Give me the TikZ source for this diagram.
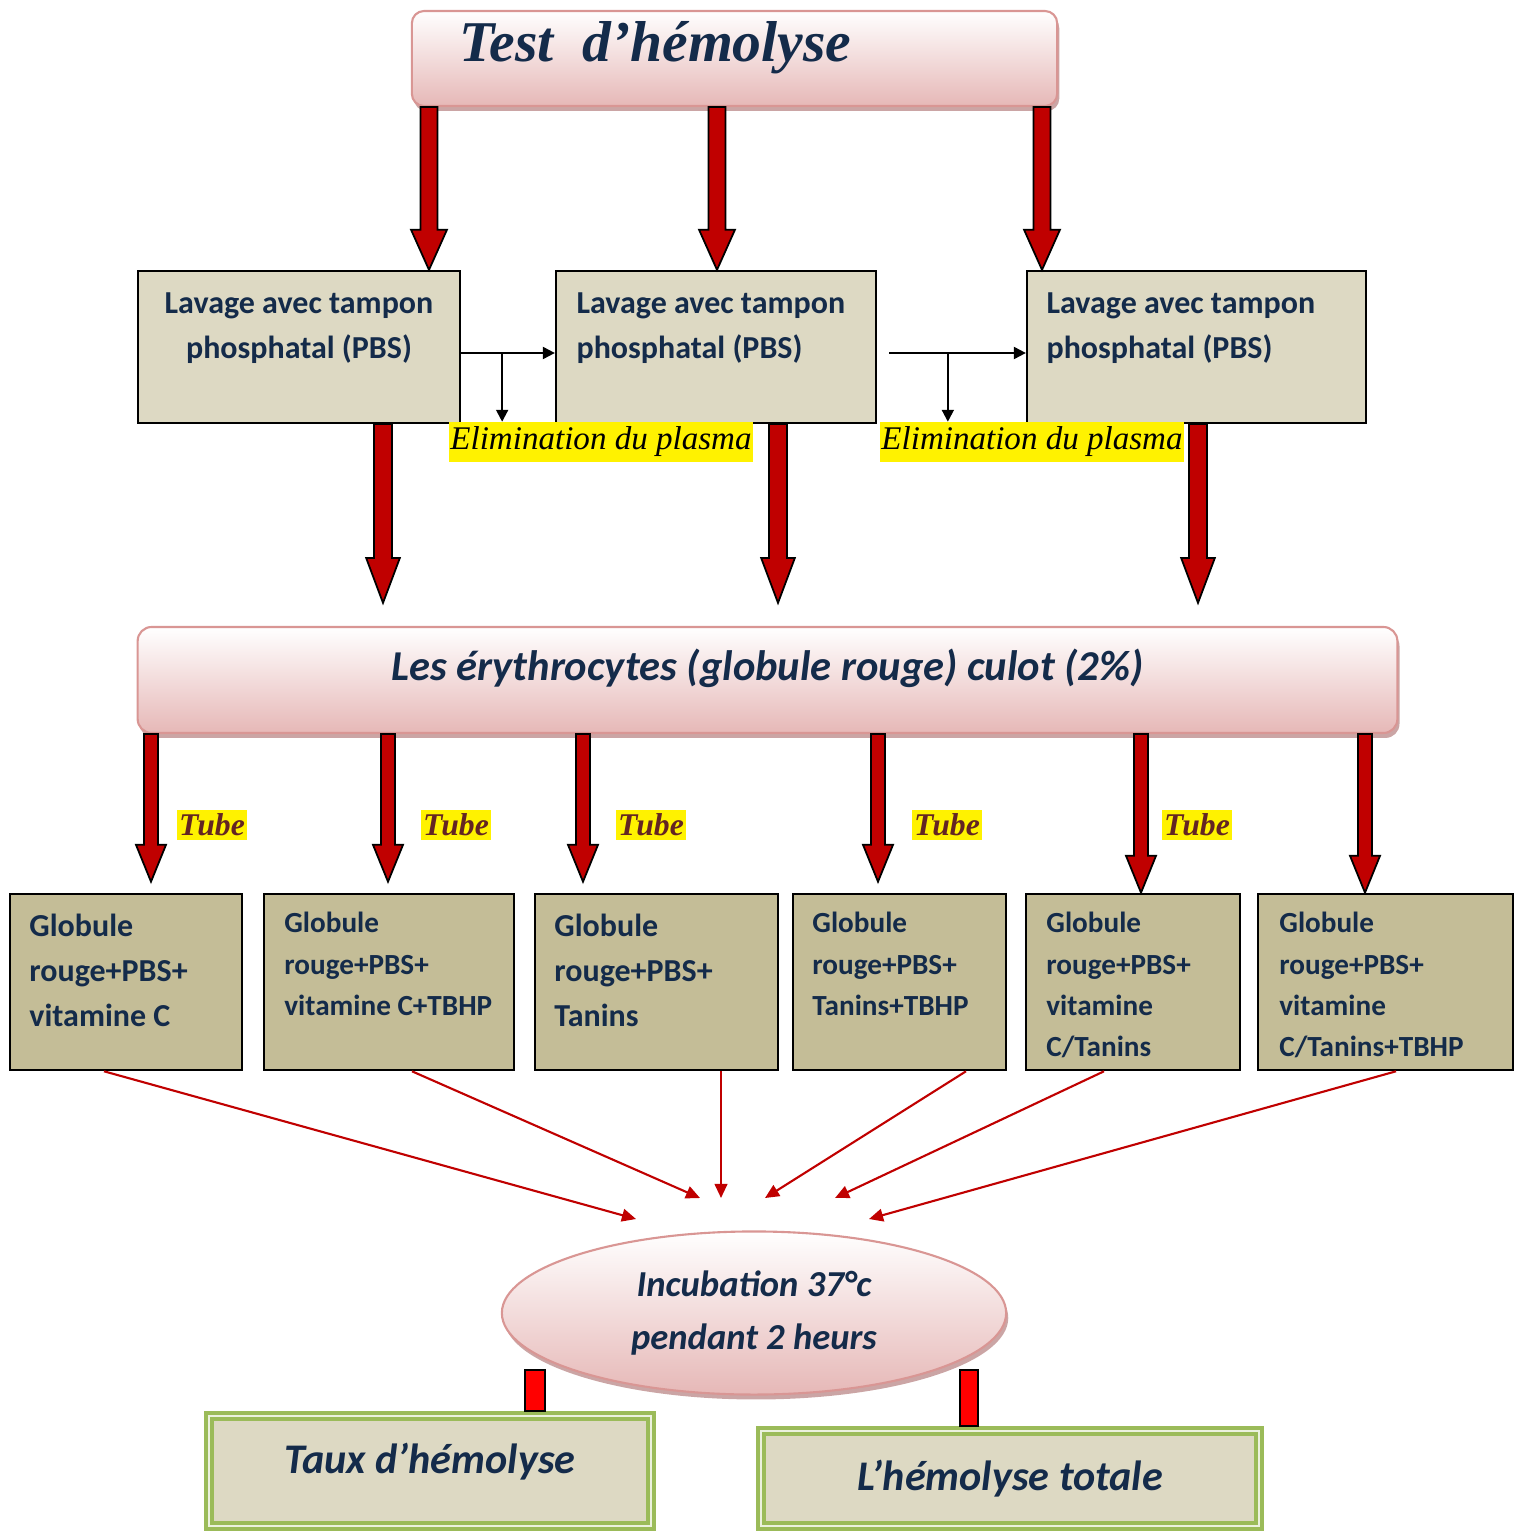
\documentclass[tikz,border=0pt]{standalone}
\usepackage{fontspec}
\setmainfont{Liberation Serif}
\newfontfamily\calib{Carlito}
\usetikzlibrary{arrows.meta,calc,shapes.geometric,shadows}

\definecolor{navy}{HTML}{142B4A}
\definecolor{darkred}{HTML}{C00000}
\definecolor{tubered}{HTML}{632523}
\definecolor{pinkedge}{HTML}{D99694}
\definecolor{pinklow}{HTML}{E6B8B7}
\definecolor{beige}{HTML}{DDD9C3}
\definecolor{khaki}{HTML}{C4BD97}
\definecolor{olive}{HTML}{9BBB59}
\definecolor{palegreen}{HTML}{EBF1DE}

% thick red arrow: from, to, half shaft, half head, head length
\newcommand\fatarrow[5]{%
  \draw[fatarr] let \p1=#1, \p2=#2 in
    (\x1-#3,\y1) -- (\x1-#3,\y2+#5) -- (\x1-#4,\y2+#5) -- (\x2,\y2)
    -- (\x1+#4,\y2+#5) -- (\x1+#3,\y2+#5) -- (\x1+#3,\y1) -- cycle;}

\begin{document}
\begin{tikzpicture}[x=0.01cm,y=-0.01cm,
  pinkbox/.style={draw=pinkedge,line width=0.6pt,top color=white,bottom color=pinklow,
    drop shadow={shadow xshift=0.6pt,shadow yshift=-1.4pt,fill=pinkedge!70!gray,opacity=0.8}},
  lavbox/.style={draw,line width=0.6pt,fill=beige,minimum height=1.52cm},
  globox/.style={draw,line width=0.7pt,fill=khaki,minimum height=1.76cm},
  resbox/.style={draw=olive,line width=1.1pt,double=palegreen,double distance=0.6pt,fill=beige,
    text=navy,font=\calib\bfseries\itshape\fontsize{12}{14}\selectfont},
  lavtxt/.style={inner sep=0pt,text=navy,font=\calib\bfseries\fontsize{9.1}{12.8}\selectfont},
  bigtxt/.style={inner sep=0pt,align=left,text=navy,font=\calib\bfseries\fontsize{9.1}{12.8}\selectfont},
  smalltxt/.style={inner sep=0pt,align=left,text=navy,font=\calib\bfseries\fontsize{8.3}{11.7}\selectfont},
  elim/.style={fill=yellow,inner xsep=0.3pt,inner ysep=1.3pt,font=\itshape\fontsize{9.4}{11}\selectfont},
  tube/.style={fill=yellow,inner xsep=0.6pt,inner ysep=1pt,text=tubered,font=\bfseries\itshape\fontsize{9}{11}\selectfont},
  fatarr/.style={draw=black,line width=0.5pt,fill=darkred},
  blk/.style={line width=0.6pt,-{Triangle[length=3.4pt,width=3.4pt]}},
  red/.style={darkred,line width=0.6pt,-{Triangle[length=4pt,width=3.6pt]}},
  stub/.style={draw=black,line width=0.5pt,fill=red}]
\useasboundingbox (0,0) rectangle (1514,1531);

% title
\node[pinkbox,rounded corners=3.5pt,minimum width=6.45cm,minimum height=0.95cm] (title) at (734.5,58.5) {};
\node[anchor=base west,inner sep=0pt,text=navy,font=\bfseries\itshape\fontsize{16.4}{19}\selectfont]
  (titlet) at ($(title.west)+(48,3.5)$) {Test\ \ d’hémolyse};

% washing steps
\node[lavbox,minimum width=3.22cm] (lav1) at (299,347) {};
\node[lavbox,minimum width=3.20cm] (lav2) at (716,347) {};
\node[lavbox,minimum width=3.39cm] (lav3) at (1196.5,347) {};
\node[lavtxt,align=center,anchor=north] (lav1t) at ($(lav1.north)+(0,22)$) {Lavage avec tampon\\phosphatal (PBS)};
\node[lavtxt,align=left,anchor=north west] (lav2t) at ($(lav2.north west)+(21,22)$) {Lavage avec tampon\\phosphatal (PBS)};
\node[lavtxt,align=left,anchor=north west] (lav3t) at ($(lav3.north west)+(20,22)$) {Lavage avec tampon\\phosphatal (PBS)};

\node[elim] (e1) at (601,442) {Elimination du plasma};
\node[elim] (e2) at (1032,442) {Elimination du plasma};

\draw[blk] (lav1.east |- 0,353) -- coordinate[pos=0.4375] (b1) (lav2.west |- 0,353);
\draw[blk] (b1) -- (b1 |- e1.north);
\coordinate (s2) at (889,353);
\draw[blk] (s2) -- coordinate[pos=0.43] (b2) (lav3.west |- s2);
\draw[blk] (b2) -- (b2 |- e2.north);

% red cells
\node[pinkbox,rounded corners=4pt,minimum width=12.59cm,minimum height=1.06cm] (ery) at (767.5,680) {};
\node[inner sep=0pt,text=navy,font=\calib\bfseries\itshape\fontsize{12.1}{14}\selectfont]
  (eryt) at ($(ery.center)+(0,-12)$) {Les érythrocytes (globule rouge) culot (2\%)};

\fatarrow{(429,0 |- title.south)}{(429,0 |- lav1.north)}{2.4pt}{5.1pt}{11.4pt}
\fatarrow{(717,0 |- title.south)}{(717,0 |- lav2.north)}{2.4pt}{5.1pt}{11.4pt}
\fatarrow{(1042,0 |- title.south)}{(1042,0 |- lav3.north)}{2.4pt}{5.1pt}{11.4pt}
\fatarrow{(383,0 |- lav1.south)}{($(383,0 |- ery.north)+(0,-23)$)}{2.56pt}{4.8pt}{12.8pt}
\fatarrow{(778,0 |- lav2.south)}{($(778,0 |- ery.north)+(0,-23)$)}{2.56pt}{4.8pt}{12.8pt}
\fatarrow{(1198,0 |- lav3.south)}{($(1198,0 |- ery.north)+(0,-23)$)}{2.56pt}{4.8pt}{12.8pt}

% tubes
\node[globox,minimum width=2.32cm] (g1) at (126,982) {};
\node[globox,minimum width=2.50cm] (g2) at (389,982) {};
\node[globox,minimum width=2.43cm] (g3) at (656.5,982) {};
\node[globox,minimum width=2.13cm] (g4) at (899.5,982) {};
\node[globox,minimum width=2.14cm] (g5) at (1133,982) {};
\node[globox,minimum width=2.55cm] (g6) at (1385.5,982) {};
\node[bigtxt,anchor=north west] (g1t) at ($(g1.north west)+(20,21)$) {Globule\\rouge+PBS+\\vitamine C};
\node[smalltxt,anchor=north west] (g2t) at ($(g2.north west)+(21,19)$) {Globule\\rouge+PBS+\\vitamine C+TBHP};
\node[bigtxt,anchor=north west] (g3t) at ($(g3.north west)+(20,21)$) {Globule\\rouge+PBS+\\Tanins};
\node[smalltxt,anchor=north west] (g4t) at ($(g4.north west)+(20,19)$) {Globule\\rouge+PBS+\\Tanins+TBHP};
\node[smalltxt,anchor=north west] (g5t) at ($(g5.north west)+(21,19)$) {Globule\\rouge+PBS+\\vitamine\\C/Tanins};
\node[smalltxt,anchor=north west] (g6t) at ($(g6.north west)+(22,19)$) {Globule\\rouge+PBS+\\vitamine\\C/Tanins+TBHP};

\node[tube] (t1) at (212,825) {Tube};
\node[tube] (t2) at (456,825) {Tube};
\node[tube] (t3) at (651,825) {Tube};
\node[tube] (t4) at (947,825) {Tube};
\node[tube] (t5) at (1197,825) {Tube};

\fatarrow{(151,0 |- ery.south)}{($(151,0 |- g1.north)+(0,-11)$)}{2pt}{4.27pt}{10.5pt}
\fatarrow{(388,0 |- ery.south)}{($(388,0 |- g2.north)+(0,-11)$)}{2pt}{4.27pt}{10.5pt}
\fatarrow{(583,0 |- ery.south)}{($(583,0 |- g3.north)+(0,-11)$)}{2pt}{4.27pt}{10.5pt}
\fatarrow{(878,0 |- ery.south)}{($(878,0 |- g4.north)+(0,-11)$)}{2pt}{4.27pt}{10.5pt}
\fatarrow{(1141,0 |- ery.south)}{(1141,0 |- g5.north)}{2pt}{4.27pt}{10.5pt}
\fatarrow{(1365,0 |- ery.south)}{(1365,0 |- g6.north)}{2pt}{4.27pt}{10.5pt}

% incubation
\node[pinkbox,ellipse,minimum width=5.04cm,minimum height=1.63cm,align=center,text=navy,
  font=\calib\bfseries\itshape\fontsize{10.4}{14.8}\selectfont] (inc) at (754,1313)
  {Incubation 37°c\\pendant 2 heurs};

\coordinate (in1) at (636,1219);
\coordinate (in2) at (700,1198);
\coordinate (in3) at (721,1198);
\coordinate (in4) at (765,1198);
\coordinate (in5) at (835,1198);
\coordinate (in6) at (869,1219);
\draw[red] (104,0 |- g1.south) -- (in1);
\draw[red] (412,0 |- g2.south) -- (in2);
\draw[red] (721,0 |- g3.south) -- (in3);
\draw[red] (966,0 |- g4.south) -- (in4);
\draw[red] (1104,0 |- g5.south) -- (in5);
\draw[red] (1396,0 |- g6.south) -- (in6);

% results
\coordinate (c1) at (535,1370);
\coordinate (c2) at (969,1370);
\node[resbox,minimum width=4.42cm,minimum height=1.10cm,text height=9pt,text depth=7.5pt] (taux) at (430,1471) {Taux d’hémolyse};
\node[resbox,minimum width=4.98cm,minimum height=0.95cm] (tot) at (1010,1478.5) {L’hémolyse totale};
\draw[stub] ($(c1)+(-10,0)$) rectangle ($(c1 |- taux.north)+(10,-3)$);
\draw[stub] ($(c2)+(-9,0)$) rectangle ($(c2 |- tot.north)+(9,-3)$);
\end{tikzpicture}
\end{document}
